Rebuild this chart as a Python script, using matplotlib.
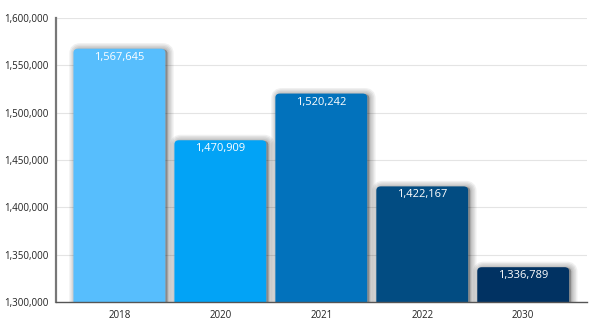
import matplotlib.pyplot as plt
from matplotlib.patches import FancyBboxPatch
from matplotlib.transforms import offset_copy

years = ["2018", "2020", "2021", "2022", "2030"]
values = [1567645, 1470909, 1520242, 1422167, 1336789]
colors = ["#57BEFD", "#02A3F6", "#0272BC", "#024C82", "#013262"]
y_ticks = [1300000, 1350000, 1400000, 1450000, 1500000, 1550000, 1600000]

plt.rcParams["font.family"] = ["Open Sans", "DejaVu Sans"]

fig = plt.figure(figsize=(6, 3.29), dpi=100)
ax = fig.add_axes([0.093, 0.082, 0.885, 0.863])

base = 1280000
bars = ax.bar(range(len(years)), [v - base for v in values], bottom=base,
              width=0.91, color="none", zorder=3)

shadow_tr = offset_copy(ax.transData, fig=fig, x=1.5, y=-0.5, units="points")

# rounded bars with a soft shadow
for b, c, v in zip(bars, colors, values):
    box = (b.get_x(), b.get_y())
    for lw in [9, 7, 5, 3, 1.5]:
        s = FancyBboxPatch(box, b.get_width(), b.get_height(),
                           boxstyle="round,pad=0,rounding_size=0.045",
                           mutation_aspect=95000, facecolor="black", edgecolor="black",
                           linewidth=lw, alpha=0.06, zorder=2.5, transform=shadow_tr)
        ax.add_patch(s)
        s.set_clip_path(ax.patch)
    p = FancyBboxPatch(box, b.get_width(), b.get_height(),
                       boxstyle="round,pad=0,rounding_size=0.045",
                       mutation_aspect=95000, facecolor=c, edgecolor="none", zorder=3)
    ax.add_patch(p)
    p.set_clip_path(ax.patch)
    ax.text(b.get_x() + b.get_width() / 2, v - 3200, f"{v:,}", ha="center", va="top",
            color="white", fontsize=8, zorder=4)

ax.set_xlim(-0.63, 4.63)
ax.set_ylim(1300000, 1600000)
ax.set_xticks(range(len(years)))
ax.set_xticklabels(years)
ax.set_yticks(y_ticks)
ax.set_yticklabels([f"{t:,}" for t in y_ticks])
ax.tick_params(axis="both", labelsize=7, colors="#222222", length=0, pad=6)
ax.tick_params(axis="y", pad=5)

ax.grid(axis="y", color="#e4e4e4", linewidth=0.8, zorder=0)
ax.set_axisbelow(True)
for s in ["top", "right"]:
    ax.spines[s].set_visible(False)
ax.spines["left"].set_color("#777777")
ax.spines["left"].set_linewidth(1.6)
ax.spines["bottom"].set_color("#555555")
ax.spines["bottom"].set_linewidth(1.0)
ax.spines["left"].set_zorder(5)
ax.spines["bottom"].set_zorder(5)

fig.savefig("out.png", dpi=100, facecolor="white")
plt.close()
